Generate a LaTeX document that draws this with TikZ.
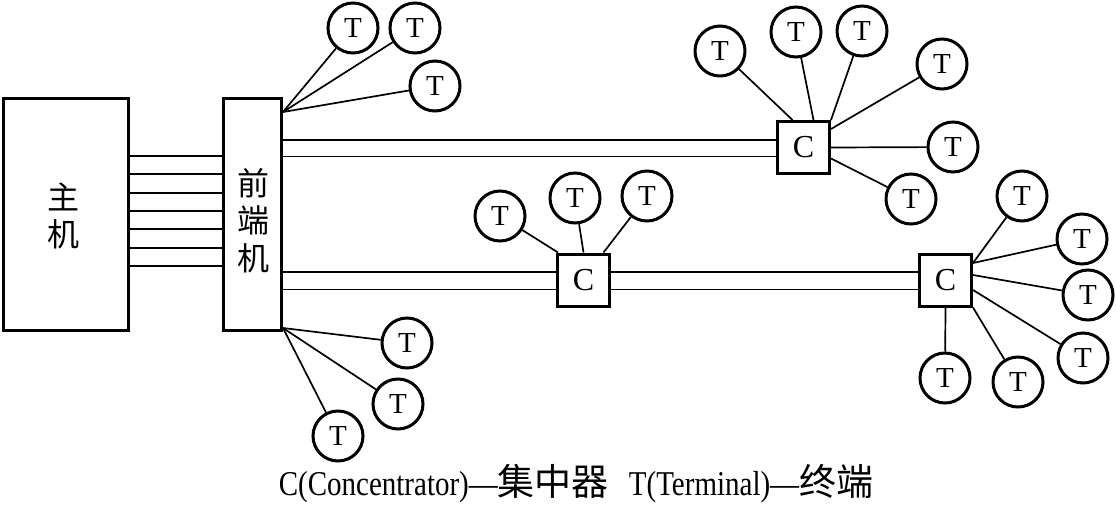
\documentclass[tikz,border=0pt]{standalone}
\usepackage{fontspec}
\setmainfont{Liberation Serif}
\newfontfamily\cjk{Noto Sans CJK SC}
\usetikzlibrary{calc}
\newcommand{\tallrm}[1]{\scalebox{1}[1.2]{#1}}
\newcommand{\capcjk}[1]{{\cjk\fontsize{37}{37}\selectfont #1}}
\begin{document}
\begin{tikzpicture}[x=1pt,y=-1pt,
  tnode/.style={circle,draw,line width=3pt,minimum size=50pt,inner sep=0pt,font=\fontsize{29}{29}\selectfont},
  cbox/.style={rectangle,draw,line width=3pt,minimum size=52pt,inner sep=0pt,font=\fontsize{32}{32}\selectfont},
  bigbox/.style={rectangle,draw,line width=3pt,inner sep=0pt},
  cjklbl/.style={font=\cjk\fontsize{32}{37.5}\selectfont,align=center,inner sep=0pt},
  conn/.style={line width=1.7pt},
  bus/.style={line width=1.8pt}]
\useasboundingbox (0,0) rectangle (1116,504);
% main boxes
\node[bigbox,minimum width=125pt,minimum height=232pt] (host) at (66,214.5) {};
\node[bigbox,minimum width=58pt,minimum height=232pt] (front) at (252.5,214.5) {};
\node[cjklbl] (hostlbl) at (63,216) {主\\机};
\node[cjklbl] (frontlbl) at (253,220.5) {前\\端\\机};
% seven parallel lines
\foreach \yy in {156,174.3,192.7,211,229.3,247.7,266}
  \draw[bus] (host.east |- 0,\yy) -- (front.west |- 0,\yy);
% concentrators
\node[cbox] (c1) at (803.5,147.5) {C};
\node[cbox] (c2) at (583.5,280) {C};
\node[cbox] (c3) at (945.5,280) {C};
% buses
\draw[bus] (front.east |- 0,140) -- (c1.west |- 0,140);
\draw[bus] (front.east |- 0,156.5) -- (c1.west |- 0,156.5);
\draw[bus] (front.east |- 0,272) -- (c2.west |- 0,272);
\draw[bus] (front.east |- 0,289.5) -- (c2.west |- 0,289.5);
\draw[bus] (c2.east |- 0,272) -- (c3.west |- 0,272);
\draw[bus] (c2.east |- 0,289.5) -- (c3.west |- 0,289.5);
% fan points of front end
\coordinate (fa) at ($(front.north east)+(0,15)$);
\coordinate (fb) at ($(front.south east)+(0,-4)$);
% top-left terminals
\node[tnode] (a1) at (353,28) {T};
\node[tnode] (a2) at (415,28) {T};
\node[tnode] (a3) at (435,86) {T};
\draw[conn] (fa) -- (a1);
\draw[conn] (fa) -- (a2);
\draw[conn] (fa) -- (a3);
% bottom-left terminals
\node[tnode] (b1) at (407,343) {T};
\node[tnode] (b2) at (398,404) {T};
\node[tnode] (b3) at (338,436) {T};
\draw[conn] (fb) -- (b1);
\draw[conn] (fb) -- (b2);
\draw[conn] (fb) -- (b3);
% terminals of c1
\node[tnode] (d1) at (720,51) {T};
\node[tnode] (d2) at (796,32) {T};
\node[tnode] (d3) at (862,31) {T};
\node[tnode] (d4) at (942,64) {T};
\node[tnode] (d5) at (953,147) {T};
\node[tnode] (d6) at (911,199) {T};
\draw[conn] (d1) -- ($(c1.north)+(-11,0)$);
\draw[conn] (d2) -- ($(c1.north)+(10,0)$);
\draw[conn] (d3) -- (c1.north east);
\draw[conn] (d4) -- ($(c1.north east)+(0,9)$);
\draw[conn] (d5) -- (c1.east);
\draw[conn] (d6) -- ($(c1.east)+(0,11)$);
% terminals of c2
\node[tnode] (e1) at (500,216) {T};
\node[tnode] (e2) at (575,198) {T};
\node[tnode] (e3) at (647,196) {T};
\draw[conn] (e1) -- ($(c2.north west)+(2,0)$);
\draw[conn] (e2) -- (c2.north);
\draw[conn] (e3) -- ($(c2.north)+(20,0)$);
% terminals of c3
\node[tnode] (f1) at (1022,196) {T};
\node[tnode] (f2) at (1082,239) {T};
\node[tnode] (f3) at (1088,295) {T};
\node[tnode] (f4) at (1083,358) {T};
\node[tnode] (f5) at (1018,382) {T};
\node[tnode] (f6) at (945,378) {T};
\draw[conn] (f1) -- ($(c3.east)+(0,-17)$);
\draw[conn] (f2) -- ($(c3.east)+(0,-17)$);
\draw[conn] (f3) -- ($(c3.east)+(0,-5)$);
\draw[conn] (f4) -- ($(c3.east)+(0,10)$);
\draw[conn] (f5) -- (c3.south east);
\draw[conn] (f6) -- (c3.south);
% caption
\node[font=\fontsize{29}{29}\selectfont,inner sep=0pt,anchor=base] (cap) at (576,495.5)
  {\tallrm{C(Concentrator)—}\capcjk{集中器}\hspace{20pt}\tallrm{T(Terminal)—}\capcjk{终端}};
\end{tikzpicture}
\end{document}
